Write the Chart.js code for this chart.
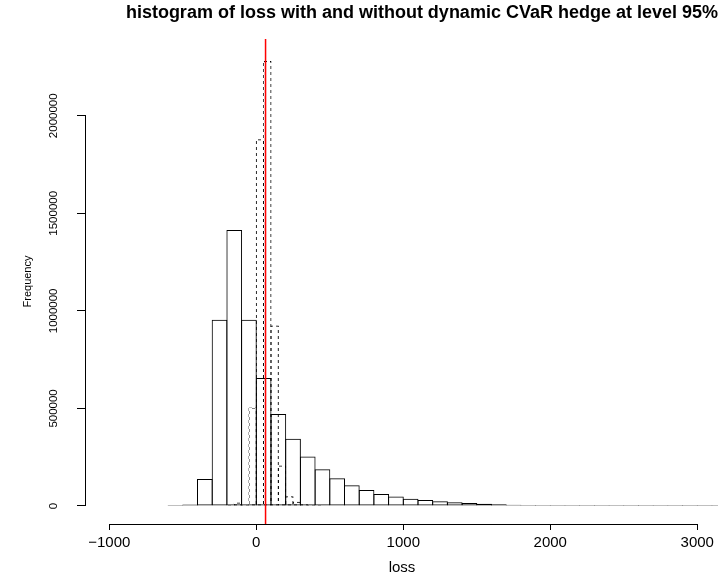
<!DOCTYPE html>
<html>
<head>
<meta charset="utf-8">
<script src="https://cdn.jsdelivr.net/npm/chart.js@4/dist/chart.umd.min.js"></script>
<style>
  body { margin: 0; background: #fff; }
  canvas { display: block; }
</style>
</head>
<body>
<canvas id="c" width="718" height="579"></canvas>
<script>
// bin midpoints (width 100) and counts for the unhedged loss
const lossMids = [-550, -450, -350, -250, -150, -50, 50, 150, 250, 350, 450, 550, 650, 750, 850, 950,
  1050, 1150, 1250, 1350, 1450, 1550, 1650, 1750, 1850, 1950, 2050, 2150, 2250, 2350, 2450, 2550,
  2650, 2750, 2850, 2950, 3050, 3150];
const lossCounts = [2000, 7000, 138000, 955000, 1415000, 955000, 656000, 472000, 344000, 253000,
  188000, 142000, 106000, 82000, 61000, 48000, 37000, 31000, 24000, 19000, 15000, 11000, 8500,
  6500, 5000, 3800, 2800, 2100, 1500, 1100, 800, 600, 400, 300, 200, 150, 100, 80];

// bin midpoints (width 50) and counts for the hedged loss (dashed)
const hedgedMids = [-175, -125, -75, -25, 25, 75, 125, 175, 225, 275, 325, 375, 425];
const hedgedCounts = [3000, 18000, 6000, 505000, 1880000, 2280000, 925000, 207000, 50000, 22000, 9000, 3000, 1000];

// level-95% VaR marker
const varLevel = 63;

const xTicks = [-1000, 0, 1000, 2000, 3000];
const yTicks = [0, 500000, 1000000, 1500000, 2000000];
const xRange = [-1158.5, 3141];
const yRange = [-92300, 2393300];

Chart.defaults.font.family = '"Liberation Sans", Arial, Helvetica, sans-serif';
Chart.defaults.color = '#000';

const ctx = document.getElementById('c').getContext('2d');

// checkerboard so the bar outlines come out dashed both ways
const tile = document.createElement('canvas');
tile.width = 6; tile.height = 6;
const tctx = tile.getContext('2d');
tctx.fillStyle = '#000';
tctx.fillRect(0, 0, 3, 3);
tctx.fillRect(3, 3, 3, 3);
const dashPattern = ctx.createPattern(tile, 'repeat');

// R style axis lines: only from first to last tick
const axisLines = {
  id: 'axisLines',
  afterDraw(chart) {
    const x = chart.scales.x, y = chart.scales.y;
    const c = chart.ctx;
    c.save();
    c.strokeStyle = '#000';
    c.lineWidth = 1;
    c.beginPath();
    const yy = Math.round(x.top) + 0.5;
    c.moveTo(x.getPixelForValue(xTicks[0]), yy);
    c.lineTo(x.getPixelForValue(xTicks[xTicks.length - 1]), yy);
    const xx = Math.round(y.right) - 0.5;
    c.moveTo(xx, y.getPixelForValue(yTicks[0]));
    c.lineTo(xx, y.getPixelForValue(yTicks[yTicks.length - 1]));
    c.stroke();
    c.restore();
  }
};

new Chart(ctx, {
  type: 'bar',
  data: {
    datasets: [
      {
        data: lossMids.map((m, i) => ({x: m, y: lossCounts[i]})),
        backgroundColor: 'rgba(0,0,0,0)',
        borderColor: '#000',
        borderWidth: 1,
        borderSkipped: false,
        minBarLength: 1,
        barPercentage: 1.068,
        categoryPercentage: 1,
        grouped: false,
        xAxisID: 'x',
        order: 2
      },
      {
        data: hedgedMids.map((m, i) => ({x: m, y: hedgedCounts[i]})),
        backgroundColor: 'rgba(0,0,0,0)',
        borderColor: dashPattern,
        borderWidth: 1,
        borderSkipped: false,
        minBarLength: 1,
        barPercentage: 1.136,
        categoryPercentage: 1,
        grouped: false,
        xAxisID: 'x2',
        order: 3
      },
      {
        type: 'line',
        data: [{x: varLevel, y: yRange[0]}, {x: varLevel, y: yRange[1]}],
        borderColor: '#ff0000',
        backgroundColor: '#ff0000',
        borderWidth: 1.5,
        pointRadius: 0,
        fill: false,
        xAxisID: 'x',
        order: 0
      }
    ]
  },
  options: {
    responsive: false,
    animation: false,
    layout: { padding: 0 },
    plugins: {
      legend: { display: false },
      tooltip: { enabled: false },
      title: {
        display: true,
        text: 'histogram of loss with and without dynamic CVaR hedge at level 95%',
        align: 'end',
        font: { size: 18, weight: 'bold' },
        padding: { top: 2, bottom: 15.4 }
      }
    },
    scales: {
      x: {
        type: 'linear',
        position: 'bottom',
        offset: false,
        min: xRange[0],
        max: xRange[1],
        afterBuildTicks: s => { s.ticks = xTicks.map(v => ({value: v})); },
        afterFit: s => { s.height = 55; },
        grid: { offset: false, drawOnChartArea: false, drawTicks: true, tickLength: 6, color: '#000' },
        border: { display: false },
        ticks: {
          font: { size: 15 },
          padding: 4,
          maxRotation: 0,
          callback: v => (v < 0 ? '\u2212' + Math.abs(v) : String(v))
        },
        title: { display: true, text: 'loss', font: { size: 15 }, padding: { top: 0, bottom: 2 } }
      },
      x2: {
        type: 'linear',
        display: false,
        offset: false,
        grid: { offset: false },
        min: xRange[0],
        max: xRange[1]
      },
      y: {
        type: 'linear',
        min: yRange[0],
        max: yRange[1],
        afterBuildTicks: s => { s.ticks = yTicks.map(v => ({value: v})); },
        afterFit: s => { s.width = 86; },
        grid: { drawOnChartArea: false, drawTicks: true, tickLength: 9, color: '#000' },
        border: { display: false },
        ticks: {
          font: { size: 11.5 },
          padding: 1,
          minRotation: 90,
          maxRotation: 90,
          crossAlign: 'center',
          callback: v => String(v)
        },
        title: { display: true, text: 'Frequency', font: { size: 11 }, padding: { top: 21 } }
      }
    }
  },
  plugins: [axisLines]
});
</script>
</body>
</html>
